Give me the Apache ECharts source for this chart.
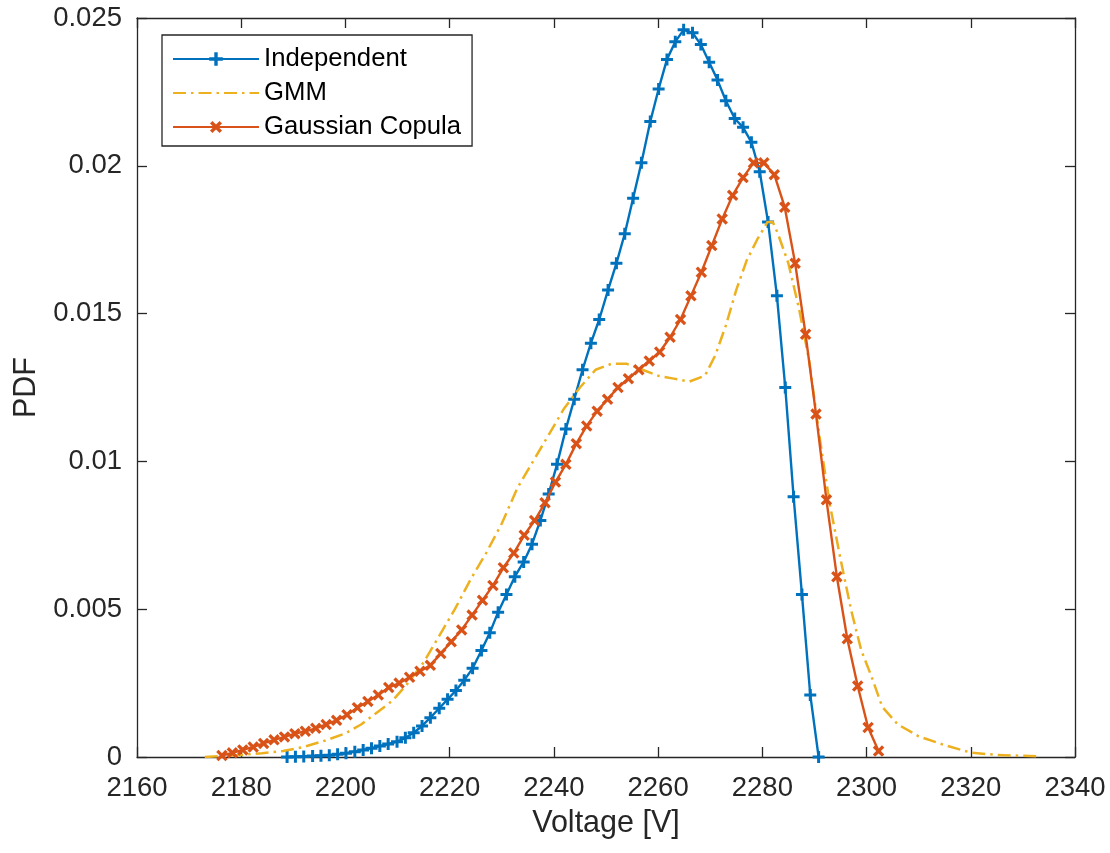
<!DOCTYPE html>
<html>
<head>
<meta charset="utf-8">
<script src="https://cdn.jsdelivr.net/npm/echarts@6/dist/echarts.min.js"></script>
<style>
html,body{margin:0;padding:0;background:#fff;}
#chart{width:1110px;height:853px;}
</style>
</head>
<body>
<div id="chart"></div>
<script>
// ---- Data ----
const seriesNames = ['Independent', 'GMM', 'Gaussian Copula'];
const xTicks = [2160, 2180, 2200, 2220, 2240, 2260, 2280, 2300, 2320, 2340];
const yTicks = [0, 0.005, 0.01, 0.015, 0.02, 0.025];

const indepX = [2188.8,2190.4,2192.0,2193.7,2195.3,2196.9,2198.5,2200.1,2201.8,2203.4,
  2205.0,2206.6,2208.2,2209.9,2211.5,2213.1,2214.7,2216.3,2218.0,2219.6,
  2221.2,2222.8,2224.4,2226.1,2227.7,2229.3,2230.9,2232.5,2234.2,2235.8,
  2237.4,2239.0,2240.6,2242.3,2243.9,2245.5,2247.1,2248.7,2250.4,2252.0,
  2253.6,2255.2,2256.8,2258.5,2260.1,2261.7,2263.3,2264.9,2266.6,2268.2,
  2269.8,2271.4,2273.0,2274.7,2276.3,2277.9,2279.5,2281.1,2282.8,2284.4,
  2286.0,2287.6,2289.2,2290.8];
const indepY = [0,0.00001,0.00002,0.00003,0.00004,0.00006,0.00009,0.00013,0.00018,0.00024,
  0.00030,0.00037,0.00044,0.00052,0.00065,0.00082,0.00105,0.00133,0.00165,0.00195,
  0.00225,0.0026,0.0030,0.0036,0.0042,0.0049,0.0055,0.0061,0.0066,0.0072,
  0.0080,0.0089,0.0099,0.0111,0.0121,0.0131,0.0140,0.0148,0.0158,0.0167,
  0.0177,0.0189,0.0201,0.0215,0.0226,0.0236,0.0242,0.0246,0.0245,0.0241,
  0.0235,0.0229,0.0222,0.0216,0.0213,0.0208,0.0198,0.0181,0.0156,0.0125,
  0.0088,0.0055,0.0021,0.0000];

const gmmX = [2173,2176,2180,2184,2188,2192,2196,2200,2203,2206,2209,2212,2215,2218,2221,
  2224,2227,2230,2233,2236,2239,2242,2245,2248,2251,2254,2257,2260,2263,2266,2269,2271,
  2273,2275,2277,2279,2281,2282,2283,2285,2287,2289,2291,2293,2295,2297,2299,2301,2303,
  2306,2310,2315,2320,2325,2333];
const gmmY = [0,0.00003,0.00007,0.00013,0.0002,0.00034,0.00055,0.0008,0.0011,0.0015,0.0019,0.0025,0.0032,0.0041,0.0050,
  0.0060,0.0069,0.0079,0.0091,0.0100,0.0109,0.0118,0.0125,0.0131,0.0133,0.0133,0.0131,0.0129,0.0128,0.0127,0.0129,0.0136,
  0.0146,0.0158,0.0168,0.0175,0.0181,0.0181,0.0177,0.0167,0.0152,0.0134,0.0108,0.0085,0.0067,0.0050,0.0036,0.0027,0.0017,
  0.0011,0.0007,0.0004,0.00015,0.00007,0.00002];

const copX = [2176.3,2178.3,2180.3,2182.3,2184.3,2186.3,2188.3,2190.3,2192.3,2194.3,
  2196.3,2198.3,2200.3,2202.3,2204.3,2206.3,2208.3,2210.3,2212.3,2214.3,
  2216.3,2218.3,2220.3,2222.3,2224.3,2226.3,2228.3,2230.3,2232.3,2234.3,
  2236.3,2238.3,2240.3,2242.3,2244.3,2246.3,2248.3,2250.3,2252.3,2254.3,
  2256.3,2258.3,2260.3,2262.3,2264.3,2266.3,2268.3,2270.3,2272.3,2274.3,
  2276.3,2278.3,2280.3,2282.3,2284.3,2286.3,2288.3,2290.3,2292.3,2294.3,
  2296.3,2298.3,2300.3,2302.3];
const copY = [0.00005,0.00014,0.00024,0.00034,0.00046,0.00058,0.00068,0.00079,0.00087,0.00097,
  0.0011,0.00124,0.00143,0.00167,0.00188,0.0021,0.00235,0.0025,0.0027,0.0029,
  0.0031,0.0035,0.0039,0.0043,0.0048,0.0053,0.0058,0.0064,0.0069,0.0075,
  0.0080,0.0086,0.0093,0.0099,0.0106,0.0112,0.0117,0.0121,0.0125,0.0128,
  0.0131,0.0134,0.0137,0.0142,0.0148,0.0156,0.0164,0.0173,0.0182,0.0190,
  0.0196,0.0201,0.0201,0.0197,0.0186,0.0167,0.0143,0.0116,0.0087,0.0061,
  0.0040,0.0024,0.0010,0.0002];

// ---- Build chart ----
const zip = (xs, ys) => xs.map((x, i) => [x, ys[i]]);
const PLUS = 'path://M3.75,0H6.25V3.75H10V6.25H6.25V10H3.75V6.25H0V3.75H3.75Z';
const AX = '#262626';
const FONT = '"Liberation Sans", Arial, Helvetica, sans-serif';

const chart = echarts.init(document.getElementById('chart'), null, {renderer: 'canvas'});

const axisCommon = {
  axisLine: {show: true, onZero: false, lineStyle: {color: AX, width: 1.3}},
  axisTick: {show: true, inside: true, length: 10, lineStyle: {color: AX, width: 1.3}},
  splitLine: {show: false}
};

chart.setOption({
  animation: false,
  backgroundColor: '#fff',
  textStyle: {fontFamily: FONT},
  grid: {left: 137, right: 35, top: 18, bottom: 96, containLabel: false},
  legend: {
    show: true,
    data: [
      {name: seriesNames[0]},
      {name: seriesNames[1], itemStyle: {opacity: 0}},
      {name: seriesNames[2]}
    ],
    orient: 'vertical',
    left: 162, top: 35,
    padding: [10, 11, 5, 10],
    itemWidth: 86, itemHeight: 17, itemGap: 6,
    borderColor: AX, borderWidth: 1.3,
    backgroundColor: '#fff',
    textStyle: {fontSize: 25.7, color: '#000', fontFamily: FONT, lineHeight: 28},
    selectedMode: false
  },
  xAxis: [
    Object.assign({
      type: 'value', position: 'bottom', min: 2160, max: 2340, interval: 20,
      name: 'Voltage [V]', nameLocation: 'middle', nameGap: 51,
      nameTextStyle: {fontSize: 30.5, color: AX, fontFamily: FONT},
      axisLabel: {fontSize: 27.5, color: AX, margin: 17, fontFamily: FONT,
        formatter: v => xTicks.includes(v) ? String(v) : ''}
    }, axisCommon),
    Object.assign({
      type: 'value', position: 'top', min: 2160, max: 2340, interval: 20,
      axisLabel: {show: false}
    }, axisCommon)
  ],
  yAxis: [
    Object.assign({
      type: 'value', position: 'left', min: 0, max: 0.025, interval: 0.005,
      name: 'PDF', nameLocation: 'middle', nameGap: 94, nameRotate: 90,
      nameTextStyle: {fontSize: 30.5, color: AX, fontFamily: FONT},
      axisLabel: {fontSize: 27.5, color: AX, margin: 15, fontFamily: FONT,
        formatter: v => { const t = yTicks.find(k => Math.abs(k - v) < 1e-9); return t === undefined ? '' : String(t); }}
    }, axisCommon),
    Object.assign({
      type: 'value', position: 'right', min: 0, max: 0.025, interval: 0.005,
      axisLabel: {show: false}
    }, axisCommon)
  ],
  series: [
    {
      name: seriesNames[0], type: 'line', data: zip(indepX, indepY),
      xAxisIndex: 0, yAxisIndex: 0,
      symbol: PLUS, symbolSize: 12, showAllSymbol: true,
      lineStyle: {color: '#0072BD', width: 2.4},
      itemStyle: {color: '#0072BD'},
      emphasis: {disabled: true}, z: 2
    },
    {
      name: seriesNames[1], type: 'line', data: zip(gmmX, gmmY),
      xAxisIndex: 0, yAxisIndex: 0,
      symbol: 'none', showSymbol: false,
      lineStyle: {color: '#EDB120', width: 2.5, type: [13, 5, 2.5, 5]},
      itemStyle: {color: '#EDB120'},
      emphasis: {disabled: true}, z: 3
    },
    {
      name: seriesNames[2], type: 'line', data: zip(copX, copY),
      xAxisIndex: 0, yAxisIndex: 0,
      symbol: PLUS, symbolSize: 13, symbolRotate: 45, showAllSymbol: true,
      lineStyle: {color: '#D95319', width: 2.4},
      itemStyle: {color: '#D95319'},
      emphasis: {disabled: true}, z: 4
    }
  ]
});
</script>
</body>
</html>
